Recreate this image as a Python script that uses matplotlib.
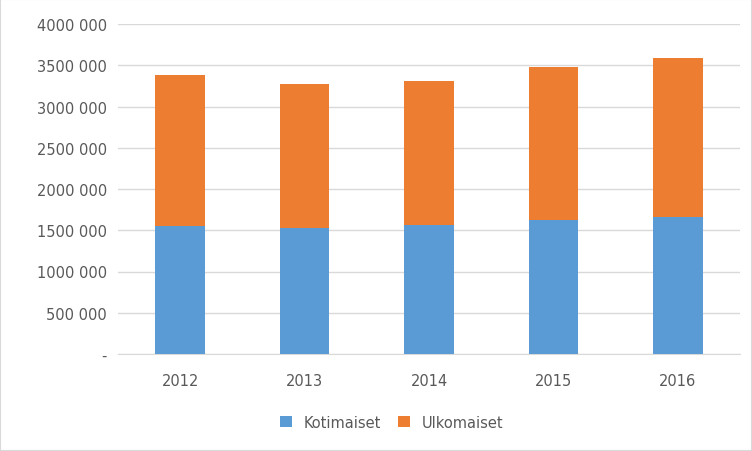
import matplotlib.pyplot as plt
import numpy as np

years = ["2012", "2013", "2014", "2015", "2016"]
kotimaiset = [1551000, 1527000, 1564000, 1624000, 1661000]
ulkomaiset = [1831000, 1746000, 1745000, 1855000, 1927000]
yticks = [0, 500000, 1000000, 1500000, 2000000, 2500000, 3000000, 3500000, 4000000]
ylabels = ["-", "500 000", "1000 000", "1500 000", "2000 000", "2500 000",
           "3000 000", "3500 000", "4000 000"]

fig = plt.figure(figsize=(7.52, 4.52), dpi=100)
ax = fig.add_axes([118 / 752, 1 - 355 / 452, 622 / 752, 330 / 452])
x = np.arange(len(years))
ax.bar(x, kotimaiset, width=0.4, color="#5b9bd5", label="Kotimaiset", zorder=3)
ax.bar(x, ulkomaiset, width=0.4, bottom=kotimaiset, color="#ed7d31", label="Ulkomaiset", zorder=3)

ax.set_ylim(0, 4000000)
ax.set_xlim(-0.5, len(years) - 0.5)
ax.set_yticks(yticks)
ax.set_yticklabels(ylabels)
ax.set_xticks(x)
ax.set_xticklabels(years)
ax.yaxis.grid(True, color="#d9d9d9", linewidth=1, zorder=0)
for s in ["top", "right", "left"]:
    ax.spines[s].set_visible(False)
ax.spines["bottom"].set_color("#d9d9d9")
ax.tick_params(axis="both", length=0, labelsize=10.5, colors="#595959", pad=14)
ax.tick_params(axis="y", pad=8)

ax.legend(loc="upper center", bbox_to_anchor=(0.44, -0.145), ncol=2, frameon=False,
          fontsize=10.5, labelcolor="#595959", handlelength=0.8, handleheight=0.8,
          columnspacing=1.2)

fig.patches.append(plt.Rectangle((0, 0), 1, 1, transform=fig.transFigure,
                                 fill=False, edgecolor="#d9d9d9", linewidth=1.5))
fig.savefig("out.png", dpi=100)
